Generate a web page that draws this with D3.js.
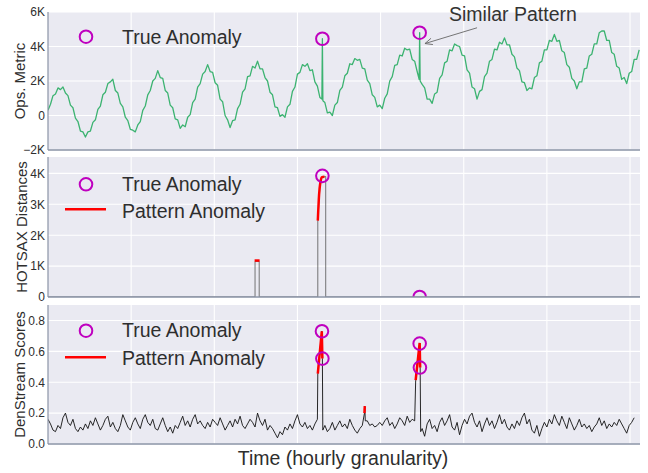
<!DOCTYPE html>
<html><head><meta charset="utf-8">
<script src="https://cdn.jsdelivr.net/npm/d3@7"></script>
<style>
body{margin:0;background:#fff;}
text{font-family:"Liberation Sans",Arial,Helvetica,sans-serif;}
</style>
</head><body>
<svg id="c" width="648" height="473"></svg>
<script>
// ---------------- DATA ----------------
const hourStep = 3; // samples every 3 hours, starting at hour 0

// Panel 1: operational metric (green); null = replaced by spike detail below
const opsMetric = [
 300,650,1150,1250,1600,1500,1650,1300,1150,600,450,-150,-350,-900,-950,-1250,-950,-900,-400,-250,
 350,550,1200,1350,1850,1950,2100,1450,1300,700,500,-100,-300,-800,-850,-950,-550,-350,300,550,
 1200,1450,2000,2150,2600,2200,2150,1450,1300,600,450,-200,-250,-750,-550,-650,-100,50,750,950,
 1650,1850,2400,2550,2950,2550,2500,1900,1750,950,800,0,-250,-700,-300,-250,400,650,1350,1550,
 2250,2300,2850,2750,3150,2700,2700,2200,2000,1350,1200,500,450,-50,50,-100,500,650,1400,1650,
 2400,2500,2950,2850,3000,2600,2650,1950,1700,1050,null,750,150,200,0,600,750,1450,1650,2300,
 2450,3000,2950,3300,3200,3250,2750,2700,2050,1850,1200,1050,500,600,400,1000,1250,2000,2250,2900,
 2950,3500,3450,3900,3800,3850,3250,3150,2550,null,1800,1600,950,950,700,1250,1350,2150,2350,3050,
 3150,3800,3750,4150,4050,4000,3500,3450,2650,2450,1650,1550,950,1400,1500,2250,2450,3150,3250,3850,
 3800,4250,4150,4500,4100,4100,3550,3400,2750,2600,1950,1900,1450,1600,1550,2200,2300,3050,3150,3800,
 3800,4350,4300,4700,4300,4350,3750,3650,2950,2800,2150,2000,1550,1950,1950,2700,2750,3450,3550,4150,
 4150,4800,4900,4900,4350,4350,3650,3550,2850,2750,2100,2200,1850,2450,2550,3250,3250,3800
];
const opsSpikeHours  = [329.4, 330, 330.6, 446.4, 447, 447.6];
const opsSpikeValues = [950, 4450, 850, 2100, 4800, 2000];

// Panel 2: HOTSAX distances (sparse breakpoints)
const hotsaxHours  = [0, 249, 249, 254, 254, 324.5, 324.5, 327, 329.5, 334, 334, 712];
const hotsaxValues = [0, 0, 1150, 1150, 0, 0, 2470, 3550, 3880, 3900, 0, 0];
const hotsaxPatternHours  = [[248.5, 254.5], [324.5, 326, 327.5, 329.5, 332.5]];
const hotsaxPatternValues = [[1180, 1180], [2470, 3300, 3700, 3880, 3890]];
const hotsaxTrueHours  = [330, 447];
const hotsaxTrueValues = [3920, 0];

// Panel 3: DenStream scores (null = replaced by spike detail below)
const denScores = [
 .16,.13,.09,.08,.12,.10,.17,.20,.14,.12,.16,.10,.08,.11,.09,.13,.10,.15,.12,.17,
 .13,.09,.12,.16,.18,.11,.14,.10,.08,.12,.19,.15,.11,.09,.14,.17,.13,.10,.16,.19,
 .14,.12,.16,.10,.09,.13,.17,.12,.08,.11,.07,.12,.10,.14,.18,.12,.15,.11,.16,.19,
 .13,.15,.12,.10,.14,.11,.16,.14,.12,.17,.13,.09,.12,.15,.11,.16,.13,.18,.12,.10,
 .13,.16,.14,.11,.20,.15,.12,.16,.09,.12,.10,.07,.04,.08,.06,.11,.09,.13,.10,.15,
 .19,.13,.11,.14,.10,.12,.09,.13,.16,null,null,.12,.08,.10,.14,.09,.12,.15,.11,.13,
 .10,.16,.12,.09,.07,.10,.12,null,.15,.12,.13,.11,.12,.14,.12,.15,.17,.12,.14,.10,
 .13,.17,.15,.12,.18,.14,.16,.15,null,null,.10,.05,.13,.16,.10,.12,.08,.14,.17,.12,
 .15,.19,.11,.09,.14,.06,.12,.16,.13,.18,.20,.14,.11,.15,.08,.13,.17,.12,.15,.10,
 .14,.19,.13,.16,.11,.09,.13,.10,.15,.12,.17,.20,.13,.16,.09,.07,.12,.05,.10,.14,
 .11,.16,.13,.19,.15,.12,.18,.14,.10,.17,.13,.09,.12,.16,.11,.13,.10,.12,.08,.11,
 .13,.17,.12,.15,.10,.13,.11,.14,.12,.16,.13,.10,.07,.12,.14,.17
];
const denSpikeHours  = [324.5, 329.3, 330, 330.5, 380.6, 381, 381.6, 442.2, 447, 447.6, 448.2];
const denSpikeScores = [.456, .73, .553, .09, .20, .245, .15, .413, .654, .495, .08];
const denPatternHours  = [[324.5, 329.3, 330], [380.6, 381], [442.2, 447, 447.6]];
const denPatternScores = [[.456, .73, .553], [.20, .245], [.413, .654, .495]];
const denTrueHours  = [329.5, 330, 447, 447.3];
const denTrueScores = [.73, .553, .65, .495];

// Panel 1 true anomalies
const opsTrueHours  = [330, 447];
const opsTrueValues = [4450, 4800];

// Axis tick values / labels
const xTickHours = [100, 200, 300, 400, 500, 600, 700];
const opsTicks = [-2000, 0, 2000, 4000, 6000];
const hotsaxTicks = [0, 1000, 2000, 3000, 4000];
const denTicks = [0, 0.2, 0.4, 0.6, 0.8];
const yLabels = ["Ops. Metric", "HOTSAX Distances", "DenStream Scores"];
const xLabel = "Time (hourly granularity)";
const legendTrue = "True Anomaly", legendPattern = "Pattern Anomaly";
const annotationText = "Similar Pattern";

// ---------------- DRAW ----------------
const svg = d3.select("#c");
const X0 = 48, X1 = 640;
const x = d3.scaleLinear().domain([0, 712]).range([X0, X1]);
const kfmt = v => v === 0 ? "0" : (v < 0 ? "\u2212" : "") + Math.abs(v / 1000) + "K";
const MAG = "#bf00bf", RED = "#ff0000", BG = "#eaeaf2", SPINE = "#8a93a6", TXT = "#2e2e2e";

const panels = [
  {top: 12, bottom: 150, domain: [-2000, 6000], ticks: opsTicks, fmt: kfmt, lx: 25},
  {top: 157, bottom: 297, domain: [0, 4530], ticks: hotsaxTicks, fmt: kfmt, lx: 27},
  {top: 305, bottom: 444, domain: [0, 0.9], ticks: denTicks, fmt: d3.format(".1f"), lx: 25}
];

const merge = (grid, hs, vs) => grid.map((v, i) => [i * hourStep, v]).filter(d => d[1] !== null)
  .concat(hs.map((h, i) => [h, vs[i]])).sort((a, b) => a[0] - b[0]);

const defs = svg.append("defs");
panels.forEach((p, i) => {
  p.y = d3.scaleLinear().domain(p.domain).range([p.bottom, p.top]);
  const g = svg.append("g");
  p.g = g;
  g.append("rect").attr("x", X0).attr("y", p.top).attr("width", X1 - X0)
    .attr("height", p.bottom - p.top).attr("fill", BG);
  g.selectAll(".vg").data(xTickHours).join("line")
    .attr("x1", d => x(d)).attr("x2", d => x(d)).attr("y1", p.top).attr("y2", p.bottom)
    .attr("stroke", "#fff").attr("stroke-width", 1.1);
  g.selectAll(".hg").data(p.ticks).join("line")
    .attr("x1", X0).attr("x2", X1).attr("y1", d => p.y(d)).attr("y2", d => p.y(d))
    .attr("stroke", "#fff").attr("stroke-width", 1.1);
  const ax = g.append("g").attr("transform", `translate(${X0},0)`)
    .call(d3.axisLeft(p.y).tickValues(p.ticks).tickFormat(p.fmt).tickSize(0).tickPadding(3));
  ax.select(".domain").remove();
  ax.selectAll("text").attr("font-size", 12).attr("fill", TXT)
    .style("font-family", '"Liberation Sans",Arial,sans-serif');
  g.append("text").attr("transform", `translate(${p.lx},${(p.top + p.bottom) / 2}) rotate(-90)`)
    .attr("text-anchor", "middle").attr("font-size", 15).attr("fill", TXT).text(yLabels[i]);
  defs.append("clipPath").attr("id", "clip" + i).append("rect")
    .attr("x", X0).attr("y", p.top).attr("width", X1 - X0).attr("height", p.bottom - p.top);
  p.plot = g.append("g").attr("clip-path", `url(#clip${i})`);
});

// Panel 1
{
  const p = panels[0];
  const pts = merge(opsMetric, opsSpikeHours, opsSpikeValues);
  p.plot.append("path").datum(pts)
    .attr("d", d3.line().x(d => x(d[0])).y(d => p.y(d[1])))
    .attr("fill", "none").attr("stroke", "#3cb371").attr("stroke-width", 1.3)
    .attr("stroke-linejoin", "round");
  p.plot.selectAll(".t").data(opsTrueHours.map((h, i) => [h, opsTrueValues[i]])).join("circle")
    .attr("cx", d => x(d[0])).attr("cy", d => p.y(d[1])).attr("r", 6.3)
    .attr("fill", "none").attr("stroke", MAG).attr("stroke-width", 2);
  const hx = x(453.4), hy = p.y(4171), tx = x(516), ty = p.y(5086);
  const ang = Math.atan2(hy - ty, hx - tx), L = 8, A = 0.42;
  p.g.append("line").attr("x1", tx).attr("y1", ty).attr("x2", hx).attr("y2", hy)
    .attr("stroke", "#666").attr("stroke-width", 0.9);
  p.g.append("path").attr("d",
    `M${hx - L * Math.cos(ang - A)},${hy - L * Math.sin(ang - A)}L${hx},${hy}L${hx - L * Math.cos(ang + A)},${hy - L * Math.sin(ang + A)}`)
    .attr("fill", "none").attr("stroke", "#666").attr("stroke-width", 0.9);
  p.g.append("text").attr("x", 449).attr("y", 20.7).attr("font-size", 19.5).attr("fill", "#333")
    .text(annotationText);
}

// Panel 2
{
  const p = panels[1];
  const line = d3.line().x(d => x(d[0])).y(d => p.y(d[1]));
  p.plot.append("path").datum(hotsaxHours.map((h, i) => [h, hotsaxValues[i]]))
    .attr("d", line).attr("fill", "none").attr("stroke", "#555").attr("stroke-opacity", 0.8).attr("stroke-width", 1);
  hotsaxPatternHours.forEach((hs, k) => {
    p.plot.append("path").datum(hs.map((h, i) => [h, hotsaxPatternValues[k][i]]))
      .attr("d", d3.line().curve(d3.curveMonotoneX).x(d => x(d[0])).y(d => p.y(d[1])))
      .attr("fill", "none").attr("stroke", RED).attr("stroke-width", 2.5);
  });
  p.plot.selectAll(".t").data(hotsaxTrueHours.map((h, i) => [h, hotsaxTrueValues[i]])).join("circle")
    .attr("cx", d => x(d[0])).attr("cy", d => p.y(d[1])).attr("r", 6.3)
    .attr("fill", "none").attr("stroke", MAG).attr("stroke-width", 2);
}

// Panel 3
{
  const p = panels[2];
  const pts = merge(denScores, denSpikeHours, denSpikeScores);
  const line = d3.line().x(d => x(d[0])).y(d => p.y(d[1]));
  p.plot.append("path").datum(pts).attr("d", line)
    .attr("fill", "none").attr("stroke", "#111").attr("stroke-width", 0.9);
  denPatternHours.forEach((hs, k) => {
    p.plot.append("path").datum(hs.map((h, i) => [h, denPatternScores[k][i]]))
      .attr("d", line).attr("fill", "none").attr("stroke", RED).attr("stroke-width", 2.5);
  });
  p.plot.selectAll(".t").data(denTrueHours.map((h, i) => [h, denTrueScores[i]])).join("circle")
    .attr("cx", d => x(d[0])).attr("cy", d => p.y(d[1])).attr("r", 6.3)
    .attr("fill", "none").attr("stroke", MAG).attr("stroke-width", 2);
}

// spines
panels.forEach(p => {
  svg.append("line").attr("x1", X0).attr("x2", X0).attr("y1", p.top).attr("y2", p.bottom)
    .attr("stroke", SPINE).attr("stroke-width", 1.2);
  svg.append("line").attr("x1", X0).attr("x2", X1).attr("y1", p.bottom).attr("y2", p.bottom)
    .attr("stroke", SPINE).attr("stroke-width", 1.4);
});

// legends
const legends = [
  {cy: 36.7, ty: 44.3, pattern: false},
  {cy: 184.3, ty: 191, ly: 209.3, lty: 218.3, pattern: true},
  {cy: 330.7, ty: 337.3, ly: 357.3, lty: 365, pattern: true}
];
legends.forEach(l => {
  svg.append("circle").attr("cx", 86).attr("cy", l.cy).attr("r", 6.3)
    .attr("fill", "none").attr("stroke", MAG).attr("stroke-width", 2);
  svg.append("text").attr("x", 122).attr("y", l.ty).attr("font-size", 19.5).attr("fill", TXT).text(legendTrue);
  if (l.pattern) {
    svg.append("line").attr("x1", 65).attr("x2", 106).attr("y1", l.ly).attr("y2", l.ly)
      .attr("stroke", RED).attr("stroke-width", 2.5);
    svg.append("text").attr("x", 122).attr("y", l.lty).attr("font-size", 19.5).attr("fill", TXT).text(legendPattern);
  }
});

svg.append("text").attr("x", 343).attr("y", 465).attr("text-anchor", "middle")
  .attr("font-size", 19.5).attr("fill", TXT).text(xLabel);
</script>
</body></html>
